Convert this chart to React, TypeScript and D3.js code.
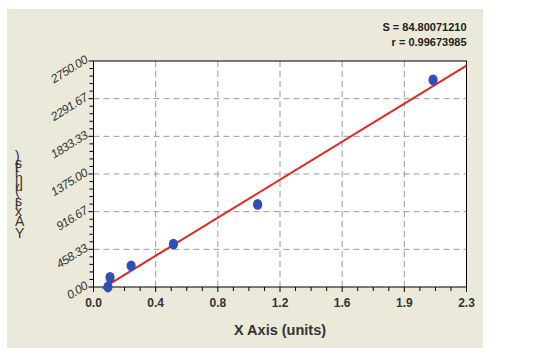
import React from "react";
import * as d3 from "d3";

const xTickLabels = ["0.0", "0.4", "0.8", "1.2", "1.6", "1.9", "2.3"];
const yTickLabels = ["0.00", "458.33", "916.67", "1375.00", "1833.33", "2291.67", "2750.00"];
const yTickValues = [0, 458.33, 916.67, 1375, 1833.33, 2291.67, 2750];
const pointX = [0.089, 0.102, 0.232, 0.493, 1.012, 2.094];
const pointY = [0, 117, 258, 521, 1005, 2520];
const fitX = [0.055, 2.3];
const fitY = [-16, 2693];
const statLines = ["S = 84.80071210", "r = 0.99673985"];
const xTitle = "X Axis (units)";
const yTitle = "Y Axis (units)";

export default function App() {
  const W = 559, H = 350;
  const left = 93.5, right = 466.5, top = 61, bottom = 287;
  const x = d3.scaleLinear().domain([0, 2.3]).range([left, right]);
  const y = d3.scaleLinear().domain([0, 2750]).range([bottom, top]);
  const xMajor = d3.range(7).map((i) => (i * 2.3) / 6);
  const xMinor = d3.range(25).map((i) => (i * 2.3) / 24).filter((_, i) => i % 4 !== 0);
  const yMinor = d3.range(31).map((i) => (i * 2750) / 30).filter((_, i) => i % 5 !== 0);
  const line = d3.line<number>().x((d, i) => x(fitX[i])).y((d, i) => y(fitY[i]));
  const font = "'Liberation Sans', Arial, sans-serif";
  return (
    <svg width={W} height={H} style={{ position: "absolute", left: 0, top: 0 }} fontFamily={font}>
      <rect x={0} y={0} width={W} height={H} fill="#ffffff" />
      <rect x={7} y={9} width={476} height={339} fill="#ebe9d9" />
      <rect x={left} y={top} width={right - left} height={bottom - top} fill="#ffffff" />
      {xMajor.slice(1, -1).map((v, i) => (
        <line key={"gx" + i} x1={x(v)} x2={x(v)} y1={top} y2={bottom} stroke="#9a9a9a" strokeDasharray="6,4" />
      ))}
      {yTickValues.slice(1, -1).map((v, i) => (
        <line key={"gy" + i} x1={left} x2={right} y1={y(v)} y2={y(v)} stroke="#9a9a9a" strokeDasharray="6,4" />
      ))}
      <rect x={left} y={top} width={right - left} height={bottom - top} fill="none" stroke="#000" strokeWidth={1} />
      {xMajor.map((v, i) => (
        <line key={"xt" + i} x1={x(v)} x2={x(v)} y1={bottom} y2={bottom + 5} stroke="#000" />
      ))}
      {xMinor.map((v, i) => (
        <line key={"xm" + i} x1={x(v)} x2={x(v)} y1={bottom} y2={bottom + 4} stroke="#000" />
      ))}
      {yTickValues.map((v, i) => (
        <line key={"yt" + i} x1={left - 5} x2={left} y1={y(v)} y2={y(v)} stroke="#000" />
      ))}
      {yMinor.map((v, i) => (
        <line key={"ym" + i} x1={left - 4} x2={left} y1={y(v)} y2={y(v)} stroke="#000" />
      ))}
      {xTickLabels.map((t, i) => (
        <text key={"xl" + i} x={x(xMajor[i])} y={bottom + 20} textAnchor="middle" fontSize={12} fontWeight="bold" fill="#333">
          {t}
        </text>
      ))}
      {yTickLabels.map((t, i) => (
        <text
          key={"yl" + i}
          transform={`translate(${left - 5},${y(yTickValues[i]) + 1}) rotate(-32)`}
          textAnchor="end"
          fontSize={12}
          fontStyle="italic"
          letterSpacing={-0.4}
          fill="#333"
        >
          {t}
        </text>
      ))}
      <text x={(left + right) / 2} y={335} textAnchor="middle" fontSize={14.5} fontWeight="bold" fill="#333">
        {xTitle}
      </text>
      <text transform="translate(15,238) rotate(-90)" rotate="90" fontSize={14} fill="#333">
        {yTitle}
      </text>
      {statLines.map((s, i) => (
        <text key={"st" + i} x={right} y={31 + i * 15} textAnchor="end" fontSize={11} fontWeight="bold" fill="#222">
          {s}
        </text>
      ))}
      <path d={line(fitX) || ""} fill="none" stroke="#e3261f" strokeWidth={2} />
      {pointX.map((v, i) => (
        <ellipse key={"p" + i} cx={x(v)} cy={y(pointY[i])} rx={4.6} ry={5.4} fill="#2c4fb8" />
      ))}
    </svg>
  );
}
